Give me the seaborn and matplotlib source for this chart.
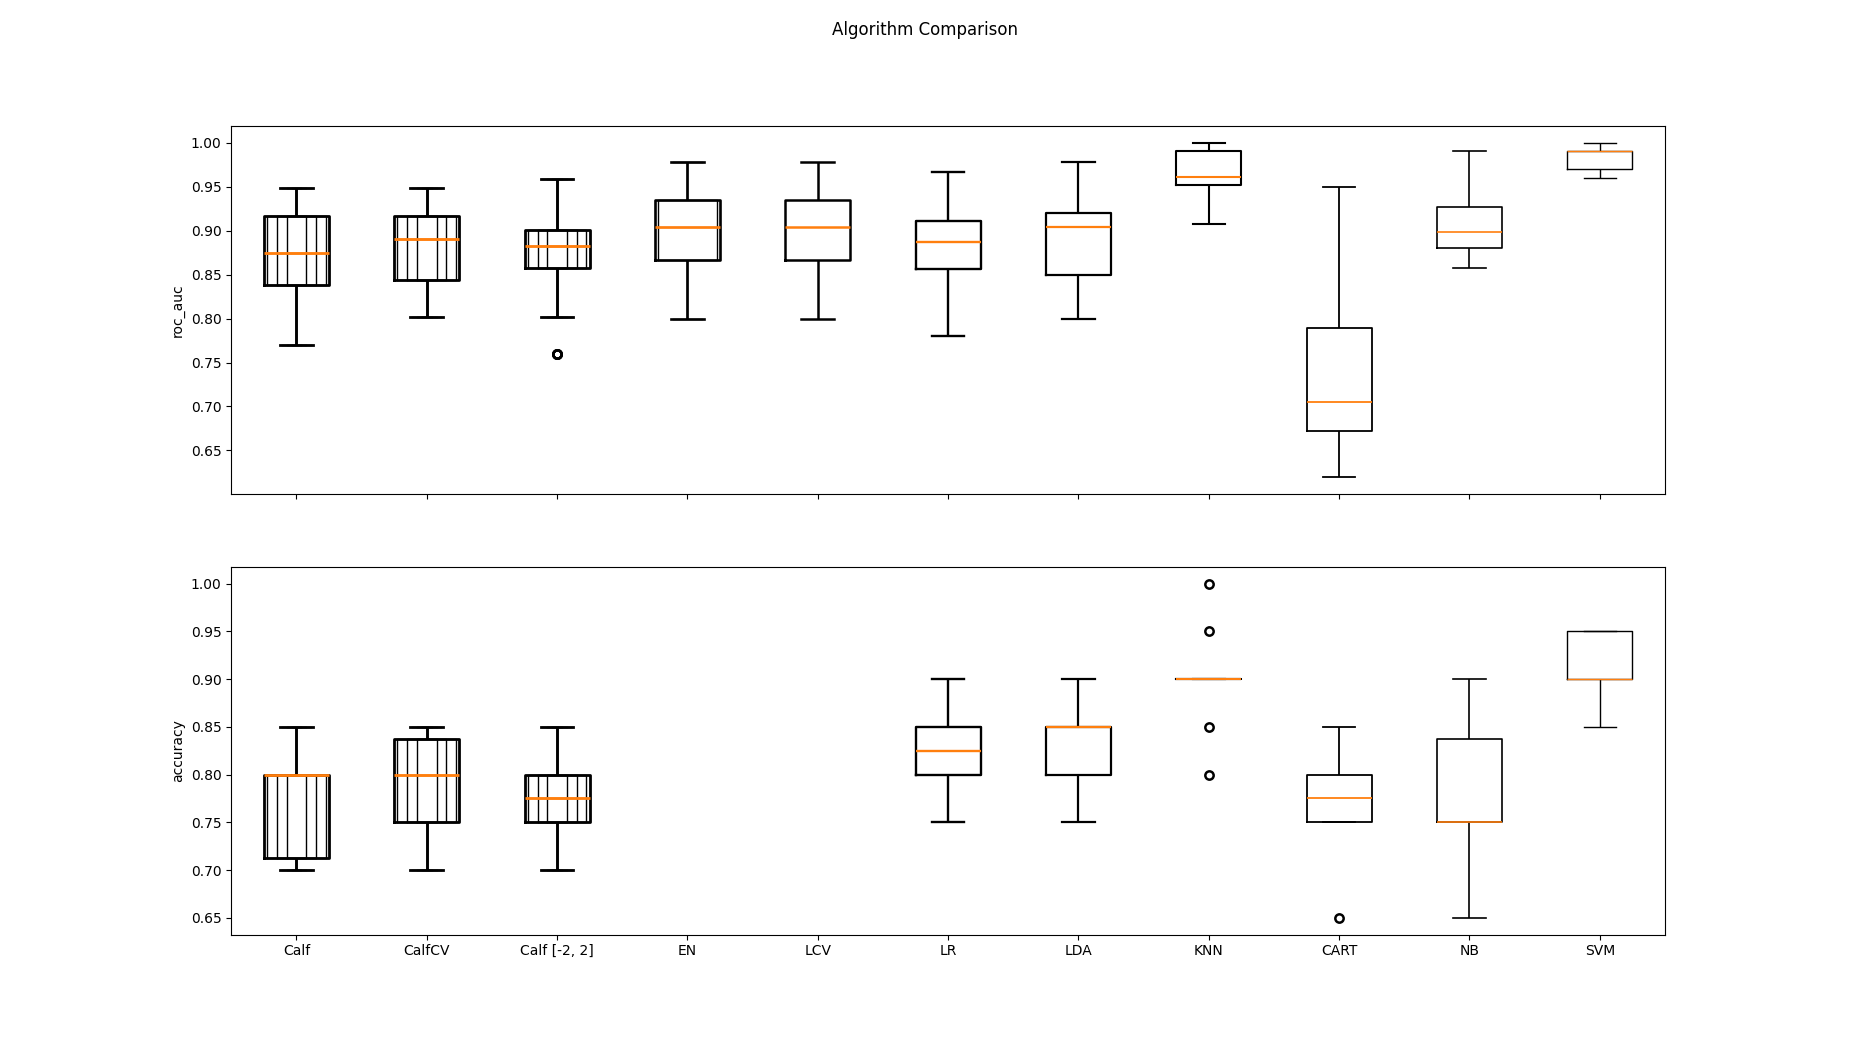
'''boxplots of the cross validated scores for each algorithm'''
import pandas as pd
import seaborn as sns
import matplotlib.pyplot as plt

#region data
models = ['Calf', 'CalfCV', 'Calf [-2, 2]', 'EN', 'LCV', 'LR', 'LDA', 'KNN', 'CART', 'NB', 'SVM']

#10 fold scores, one list per model (same order as models)
roc_auc = [
    [0.770, 0.812, 0.838, 0.838, 0.875, 0.875, 0.917, 0.917, 0.929, 0.948],
    [0.802, 0.823, 0.844, 0.844, 0.890, 0.890, 0.917, 0.917, 0.938, 0.948],
    [0.760, 0.802, 0.858, 0.858, 0.883, 0.883, 0.901, 0.901, 0.927, 0.959],
    [0.800, 0.833, 0.867, 0.867, 0.900, 0.909, 0.935, 0.935, 0.956, 0.978],
    [0.800, 0.833, 0.867, 0.867, 0.900, 0.909, 0.935, 0.935, 0.956, 0.978],
    [0.780, 0.822, 0.856, 0.856, 0.878, 0.897, 0.911, 0.911, 0.944, 0.967],
    [0.800, 0.833, 0.850, 0.850, 0.900, 0.909, 0.920, 0.920, 0.956, 0.978],
    [0.907, 0.933, 0.952, 0.952, 0.956, 0.966, 0.991, 0.991, 1.000, 1.000],
    [0.620, 0.650, 0.672, 0.672, 0.700, 0.710, 0.789, 0.789, 0.850, 0.950],
    [0.857, 0.867, 0.880, 0.880, 0.893, 0.903, 0.927, 0.927, 0.958, 0.990],
    [0.960, 0.965, 0.970, 0.970, 0.990, 0.990, 0.990, 0.990, 1.000, 1.000],
]

accuracy = [
    [0.70, 0.70, 0.70, 0.75, 0.80, 0.80, 0.80, 0.80, 0.80, 0.85],
    [0.70, 0.75, 0.75, 0.75, 0.80, 0.80, 0.80, 0.85, 0.85, 0.85],
    [0.70, 0.75, 0.75, 0.75, 0.75, 0.80, 0.80, 0.80, 0.85, 0.85],
    [],  #EN, no accuracy scores
    [],  #LCV, no accuracy scores
    [0.75, 0.80, 0.80, 0.80, 0.80, 0.85, 0.85, 0.85, 0.90, 0.90],
    [0.75, 0.80, 0.80, 0.80, 0.85, 0.85, 0.85, 0.85, 0.90, 0.90],
    [0.80, 0.85, 0.90, 0.90, 0.90, 0.90, 0.90, 0.90, 0.95, 1.00],
    [0.65, 0.75, 0.75, 0.75, 0.75, 0.80, 0.80, 0.80, 0.80, 0.85],
    [0.65, 0.70, 0.75, 0.75, 0.75, 0.75, 0.80, 0.85, 0.85, 0.90],
    [0.85, 0.90, 0.90, 0.90, 0.90, 0.90, 0.95, 0.95, 0.95, 0.95],
]
#endregion

#region styles
line_widths = [2.0, 2.0, 2.0, 1.9, 1.8, 1.7, 1.6, 1.5, 1.3, 1.2, 1.0]
#the calf boxes are overdrawn with narrower boxes
box_widths = [[0.5, 0.45, 0.3, 0.15]] * 3 + [[0.5, 0.45]] + [[0.5]] * 7
box_widths_acc = [[0.5, 0.45, 0.3, 0.15]] * 3 + [[0.5]] * 8
median_colour = '#ff7f0e'
#endregion


def to_long(scores):
    '''(list of lists)->DataFrame with model and score columns'''
    rows = [(m, s) for m, vals in zip(models, scores) for s in vals]
    return pd.DataFrame(rows, columns=['model', 'score'])


def draw(ax, df, widths):
    '''draw one box per model, with its own line weight'''
    for i, m in enumerate(models):
        sub = df[df['model'] == m]
        if sub.empty:
            continue
        for j, w in enumerate(widths[i]):
            lw = line_widths[i] if j == 0 else 1.0
            sns.boxplot(data=sub, x='model', y='score', order=models, ax=ax,
                        width=w, fill=False, color='black', linewidth=lw,
                        fliersize=6, medianprops={'color': median_colour},
                        flierprops={'markeredgewidth': 1.8})


plt.close('all')
fig, (ax1, ax2) = plt.subplots(2, 1, sharex=True, figsize=(18.5, 10.5), dpi=100)
fig.suptitle('Algorithm Comparison')

draw(ax1, to_long(roc_auc), box_widths)
ax1.set_ylabel('roc_auc')
ax1.set_xlabel('')

draw(ax2, to_long(accuracy), box_widths_acc)
ax2.set_ylabel('accuracy')
ax2.set_xlabel('')

plt.savefig('out.png', dpi=100)
